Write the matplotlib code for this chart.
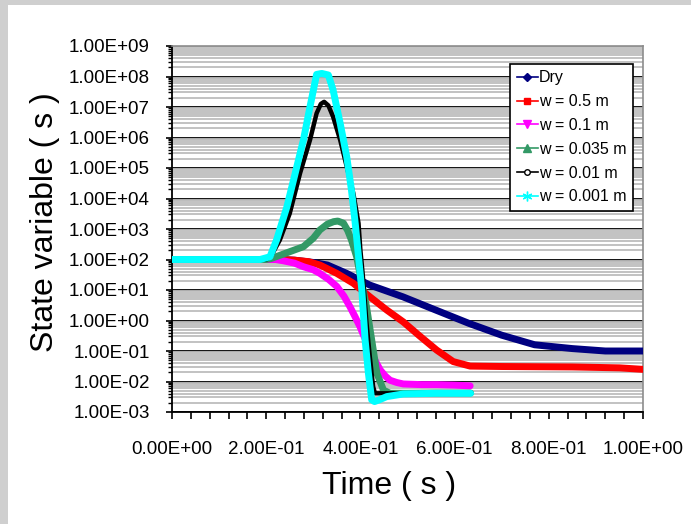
import matplotlib
matplotlib.use("Agg")
import matplotlib.pyplot as plt
from matplotlib.lines import Line2D
from matplotlib.patches import Rectangle
from matplotlib.ticker import LogLocator, NullFormatter, FixedLocator, MultipleLocator

plt.rcParams['font.family'] = ['Liberation Sans', 'DejaVu Sans']

# ---------------- data (time in s, state variable in s) ----------------
t_dry = [0, 0.23, 0.26, 0.30, 0.33, 0.371, 0.42, 0.49, 0.56, 0.63, 0.70, 0.77, 0.85, 0.92, 1.0]
v_dry = [100, 100, 95, 80, 66, 35, 14.5, 6.0, 2.2, 0.81, 0.33, 0.16, 0.12, 0.10, 0.10]

t_w05 = [0, 0.23, 0.26, 0.29, 0.314, 0.35, 0.385, 0.42, 0.456, 0.491, 0.527, 0.562,
         0.597, 0.633, 0.70, 0.85, 0.95, 1.0]
v_w05 = [100, 100, 95, 85, 66, 35, 16.6, 6.0, 2.2, 0.9, 0.30, 0.107,
         0.045, 0.032, 0.031, 0.030, 0.028, 0.025]

t_w01 = [0, 0.22, 0.236, 0.26, 0.279, 0.30, 0.314, 0.333, 0.35, 0.365, 0.378, 0.389,
         0.399, 0.41, 0.42, 0.431, 0.442, 0.453, 0.463, 0.477, 0.491, 0.53, 0.562, 0.60, 0.633]
v_w01 = [100, 100, 91, 76, 58, 46, 35, 22, 13, 6.3, 2.8, 1.3,
         0.63, 0.25, 0.107, 0.05, 0.024, 0.015, 0.011, 0.0093, 0.0083, 0.0079, 0.0079, 0.0076, 0.0072]

t_w0035 = [0, 0.20, 0.21, 0.24, 0.279, 0.30, 0.314, 0.33, 0.343, 0.352, 0.364, 0.373,
           0.381, 0.392, 0.402, 0.413, 0.424, 0.435, 0.449, 0.463, 0.50, 0.56, 0.634]
v_w0035 = [100, 100, 107, 158, 263, 500, 933, 1445, 1738, 1820, 1549, 891,
           437, 123, 20, 2.8, 0.23, 0.0186, 0.0052, 0.0041, 0.0041, 0.0042, 0.0042]

t_w001 = [0, 0.20, 0.21, 0.229, 0.25, 0.272, 0.293, 0.307, 0.316, 0.323, 0.332, 0.342,
          0.357, 0.371, 0.385, 0.396, 0.400, 0.405, 0.413, 0.42, 0.427, 0.431, 0.45, 0.55, 0.634]
v_w001 = [100, 100, 126, 437, 3236, 6.8e4, 8.3e5, 6.2e6, 1.26e7, 1.48e7, 1.12e7, 4.8e6,
          8.3e5, 1.1e5, 1.48e4, 1549, 200, 32, 0.81, 0.065, 0.0068, 0.0041, 0.0041, 0.0041, 0.0041]

t_w0001 = [0, 0.187, 0.208, 0.222, 0.244, 0.265, 0.279, 0.293, 0.307, 0.318, 0.332, 0.342,
           0.357, 0.371, 0.381, 0.389, 0.396, 0.403, 0.41, 0.417, 0.424, 0.43, 0.44, 0.456,
           0.491, 0.56, 0.634]
v_w0001 = [100, 100, 123, 437, 5370, 1.1e5, 8.3e5, 1.02e7, 1.17e8, 1.26e8, 1.12e8, 3.6e7,
           2.95e6, 2.34e5, 1.9e4, 1549, 123, 10, 0.23, 0.0186, 0.0025, 0.0022, 0.0025, 0.0032,
           0.0039, 0.0041, 0.0041]

series_labels = ["Dry", "w = 0.5 m", "w = 0.1 m", "w = 0.035 m", "w = 0.01 m", "w = 0.001 m"]
series_colors = ["#000080", "#ff0000", "#ff00ff", "#339966", "#000000", "#00ffff"]

ytick_values = [1e-3, 1e-2, 1e-1, 1e0, 1e1, 1e2, 1e3, 1e4, 1e5, 1e6, 1e7, 1e8, 1e9]
ytick_labels = ["1.00E-03", "1.00E-02", "1.00E-01", "1.00E+00", "1.00E+01", "1.00E+02",
                "1.00E+03", "1.00E+04", "1.00E+05", "1.00E+06", "1.00E+07", "1.00E+08", "1.00E+09"]
xtick_values = [0.0, 0.2, 0.4, 0.6, 0.8, 1.0]
xtick_labels = ["0.00E+00", "2.00E-01", "4.00E-01", "6.00E-01", "8.00E-01", "1.00E+00"]

# ---------------- figure ----------------
W, H = 691, 524
fig = plt.figure(figsize=(W / 100, H / 100), dpi=100)
fig.patch.set_facecolor("#cfcfcf")
fig.patches.append(Rectangle((8 / W, 0), 1, (H - 5) / H, transform=fig.transFigure,
                             facecolor="white", edgecolor="none", zorder=-5))

L, R, T, B = 172, 643, 46, 412
ax = fig.add_axes([L / W, 1 - B / H, (R - L) / W, (B - T) / H])
ax.set_zorder(2)
ax.set_facecolor("white")

all_t = [t_dry, t_w05, t_w01, t_w0035, t_w001, t_w0001]
all_v = [v_dry, v_w05, v_w01, v_w0035, v_w001, v_w0001]
widths = [5.0, 5.0, 5.0, 5.0, 3.2, 5.0]
for tt, vv, c, lw, lab in zip(all_t, all_v, series_colors, widths, series_labels):
    ax.plot(tt, vv, color=c, lw=lw, solid_joinstyle="round", solid_capstyle="round",
            zorder=3)

ax.set_yscale("log")
ax.set_ylim(1e-3, 1e9)
ax.set_xlim(0, 1.0)

ax.yaxis.set_major_locator(FixedLocator(ytick_values))
ax.set_yticklabels(ytick_labels)
ax.yaxis.set_minor_locator(LogLocator(base=10, subs=[2, 3, 4, 5, 6, 7, 8, 9], numticks=50))
ax.yaxis.set_minor_formatter(NullFormatter())

ax.set_xticks(xtick_values)
ax.set_xticklabels(xtick_labels)
ax.xaxis.set_minor_locator(MultipleLocator(0.04))

ax.grid(which="major", axis="y", color="black", lw=1.3, zorder=1)
ax.grid(which="minor", axis="y", color="#bdbdbd", lw=1.3, zorder=0.9)
ax.grid(which="both", axis="x", visible=False)
ax.set_axisbelow(True)

ax.tick_params(axis="y", which="major", direction="out", length=4, width=1.2,
               labelsize=13.5, pad=12, colors="black")
ax.tick_params(axis="y", which="minor", direction="out", length=3, width=1.0)
ax.tick_params(axis="x", which="both", direction="out", length=5, width=1.2)
ax.tick_params(axis="x", which="major", labelsize=13.5, pad=16)

for s in ["left", "bottom"]:
    ax.spines[s].set_color("black")
    ax.spines[s].set_linewidth(1.3)
for s in ["top", "right"]:
    ax.spines[s].set_color("#8c8c8c")
    ax.spines[s].set_linewidth(1.2)

markers = ["D", "s", "v", "^", "o", (6, 2, 0)]
msizes = [4, 5, 6, 6, 4, 7]
handles = []
for c, m, ms, lab in zip(series_colors, markers, msizes, series_labels):
    mfc = "white" if lab == "w = 0.01 m" else c
    handles.append(Line2D([], [], color=c, lw=1.2, marker=m, markersize=ms,
                          markerfacecolor=mfc, markeredgecolor=c, label=lab))
leg = ax.legend(handles=handles, loc="upper right",
                bbox_to_anchor=((633 - L) / (R - L), (B - 64) / (B - T)),
                borderaxespad=0, fontsize=11.5, frameon=True, fancybox=False,
                edgecolor="black", framealpha=1, handlelength=1.3, handletextpad=0.1,
                labelspacing=0.55, borderpad=0.4)
leg.get_frame().set_linewidth(1.2)
leg.set_zorder(5)

fig.text(389 / W, 1 - 486 / H, "Time ( s )", ha="center", va="center", fontsize=23)
fig.text(45 / W, 1 - 222 / H, "State variable ( s )", ha="center", va="center",
         rotation=90, fontsize=23)

fig.savefig("out.png", dpi=100, facecolor=fig.get_facecolor())
